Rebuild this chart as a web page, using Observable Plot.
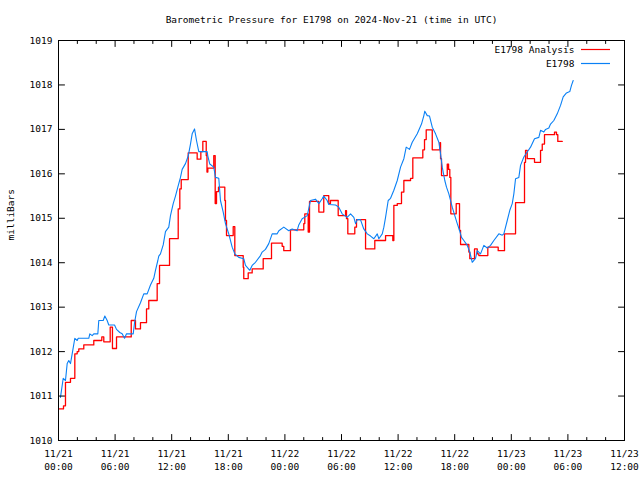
<!DOCTYPE html>
<html><head><meta charset="utf-8">
<script src="https://cdn.jsdelivr.net/npm/d3@7"></script>
<script src="https://cdn.jsdelivr.net/npm/@observablehq/plot@0.6"></script>
<style>body{margin:0;background:#fff} svg{display:block}</style>
</head><body><div id="chart"></div>
<script>
const title = "Barometric Pressure for E1798 on 2024-Nov-21 (time in UTC)";
const yLabel = "milliBars";
const seriesNames = ["E1798 Analysis", "E1798"];
const seriesColors = ["#ff0000", "#0a80f5"];
const startTime = "2024-11-21T00:00:00Z";
const xTickHours = [0, 6, 12, 18, 24, 30, 36, 42, 48, 54, 60];
const xTickLabels = ["11/21\n00:00", "11/21\n06:00", "11/21\n12:00", "11/21\n18:00", "11/22\n00:00", "11/22\n06:00", "11/22\n12:00", "11/22\n18:00", "11/23\n00:00", "11/23\n06:00", "11/23\n12:00"];
const xMinorHours = [2, 4, 8, 10, 14, 16, 20, 22, 26, 28, 32, 34, 38, 40, 44, 46, 50, 52, 56, 58];
const yTicks = [1010, 1011, 1012, 1013, 1014, 1015, 1016, 1017, 1018, 1019];

// E1798 observations (hours after start, mb)
const obsHours = [0.21,0.50,0.74,0.92,1.09,1.27,1.45,1.73,1.98,2.09,
3.21,3.32,3.57,3.74,4.17,4.27,4.74,4.91,5.16,5.33,
5.94,6.15,6.50,6.75,7.00,7.21,7.92,8.06,8.27,8.69,
9.04,9.40,9.75,10.10,10.28,10.53,10.63,10.81,11.10,11.34,
11.69,11.87,12.16,12.40,12.65,12.93,13.11,13.46,13.75,13.99,
14.17,14.42,14.63,14.87,15.76,15.83,16.04,16.46,16.64,16.99,
17.17,17.46,17.70,18.05,18.41,18.69,19.11,19.64,19.82,20.28,
20.53,20.88,21.41,21.59,21.94,22.29,22.65,23.18,23.36,23.88,
24.41,24.77,25.30,25.47,25.83,26.37,26.71,27.24,27.60,27.95,
28.12,28.48,28.65,29.37,29.71,30.07,30.60,30.96,31.31,31.49,
31.67,32.01,32.36,32.73,33.08,33.43,33.79,33.96,34.32,34.49,
34.67,34.95,35.20,35.55,35.91,36.26,36.61,36.86,37.21,37.50,
38.03,38.48,38.73,38.83,39.09,39.33,39.62,39.97,40.32,40.50,
40.68,40.95,41.13,41.38,41.74,42.01,42.27,42.51,42.72,42.97,
43.33,43.60,43.86,44.21,44.39,44.74,45.09,45.45,45.80,46.15,
46.68,47.04,47.21,47.57,47.84,48.10,48.27,48.45,48.80,48.98,
49.33,49.69,50.04,50.46,50.92,51.10,51.45,51.63,51.98,52.16,
52.51,52.87,53.22,53.50,53.85,54.20,54.38,54.56];
const obsValues = [1010.97,1011.40,1011.35,1011.73,1011.80,1011.73,1011.95,1012.30,1012.25,1012.30,
1012.30,1012.40,1012.36,1012.40,1012.40,1012.70,1012.70,1012.80,1012.70,1012.60,
1012.60,1012.50,1012.43,1012.40,1012.30,1012.40,1012.40,1012.65,1012.90,1013.10,
1013.30,1013.30,1013.50,1013.65,1013.83,1014.05,1014.15,1014.20,1014.40,1014.70,
1014.80,1015.06,1015.33,1015.50,1015.70,1015.92,1016.10,1016.23,1016.40,1016.67,
1016.90,1017.01,1016.75,1016.50,1016.50,1016.40,1016.22,1016.15,1015.92,1015.90,
1015.40,1015.14,1014.88,1014.65,1014.35,1014.20,1014.12,1014.09,1013.94,1013.83,
1013.94,1014.01,1014.16,1014.24,1014.30,1014.43,1014.65,1014.65,1014.72,1014.80,
1014.72,1014.76,1014.72,1014.85,1014.99,1015.06,1015.40,1015.43,1015.33,1015.44,
1015.50,1015.40,1015.31,1015.30,1015.25,1015.10,1015.02,1015.10,1015.02,1014.88,
1014.97,1014.97,1014.76,1014.65,1014.60,1014.54,1014.65,1014.54,1014.65,1014.80,
1015.02,1015.40,1015.45,1015.63,1015.85,1016.15,1016.34,1016.60,1016.55,1016.71,
1016.90,1017.12,1017.31,1017.41,1017.31,1017.30,1017.05,1016.90,1016.71,1016.45,
1016.15,1015.85,1015.70,1015.55,1015.25,1015.06,1014.88,1014.73,1014.57,1014.50,
1014.39,1014.24,1014.01,1014.10,1014.27,1014.20,1014.39,1014.33,1014.39,1014.50,
1014.65,1014.62,1014.65,1014.95,1015.18,1015.33,1015.55,1015.89,1015.92,1016.19,
1016.38,1016.49,1016.60,1016.79,1016.82,1016.98,1016.94,1017.00,1017.03,1017.12,
1017.20,1017.35,1017.54,1017.73,1017.82,1017.85,1017.99,1018.10];

// E1798 Analysis (step changes: hours after start, mb)
const anaHours = [0.10,0.53,0.74,1.27,1.73,1.98,2.15,2.68,3.74,4.59,
4.80,5.48,5.72,6.15,7.71,8.16,8.69,9.33,9.57,10.46,
10.71,11.77,12.69,12.86,13.01,13.75,14.70,15.09,15.30,15.66,
15.74,15.83,16.46,16.61,16.75,16.96,17.63,17.70,17.81,18.52,
18.69,19.58,19.64,20.11,20.53,21.70,22.58,23.71,23.88,24.59,
26.00,26.11,26.47,26.61,27.60,28.12,28.65,28.83,29.65,30.43,
30.53,30.67,31.41,31.59,32.55,33.53,34.67,35.44,35.55,35.91,
36.36,36.61,37.32,37.56,38.62,38.80,38.98,39.62,40.42,40.50,
40.60,41.21,41.35,41.48,41.59,42.16,42.51,42.62,43.50,43.60,
44.10,44.39,44.56,45.51,46.61,47.28,48.45,49.40,49.51,49.69,
50.46,51.10,51.28,51.52,52.58,52.79,52.93,53.40];
const anaValues = [1010.71,1010.78,1011.31,1011.40,1011.95,1012.00,1012.06,1012.15,1012.25,1012.33,
1012.22,1012.55,1012.07,1012.33,1012.70,1012.51,1012.65,1012.96,1013.15,1013.53,
1013.94,1014.54,1015.21,1015.66,1015.87,1016.47,1016.33,1016.50,1016.73,1016.41,
1016.04,1016.13,1016.41,1015.33,1015.60,1015.70,1015.40,1014.95,1014.61,1014.81,
1014.16,1013.90,1013.64,1013.77,1013.86,1014.09,1014.44,1014.37,1014.27,1014.74,
1014.88,1015.10,1014.69,1015.38,1015.14,1015.51,1015.33,1015.40,1015.06,1015.17,
1014.99,1014.65,1014.80,1014.97,1014.31,1014.50,1014.61,1014.50,1015.29,1015.33,
1015.59,1015.85,1015.90,1016.36,1016.54,1016.77,1016.99,1016.54,1016.70,1016.34,
1015.96,1016.22,1016.10,1015.92,1015.10,1015.33,1014.73,1014.41,1014.24,1014.09,
1014.31,1014.20,1014.16,1014.35,1014.27,1014.65,1015.35,1016.26,1016.53,1016.34,
1016.26,1016.53,1016.67,1016.88,1016.94,1016.88,1016.73,1016.73];

const t0 = new Date(startTime).getTime();
const toDate = h => new Date(t0 + h * 3600000);
const obs = obsHours.map((h, i) => ({t: toDate(h), v: obsValues[i]}));
const ana = anaHours.map((h, i) => ({t: toDate(h), v: anaValues[i]}));
const majorDates = xTickHours.map(toDate);
const minorDates = xMinorHours.map(toDate);
const labelFor = d => xTickLabels[xTickHours.indexOf(Math.round((d - t0) / 3600000))];

const tickShape = {draw(ctx, l) { ctx.moveTo(0, 0); ctx.lineTo(0, -l); }};
const tickOpts = {anchor: "start", shape: tickShape, stroke: "black", strokeWidth: 1};

const W = 640, H = 480, mL = 58, mR = 16, mT = 40, mB = 40;

const chart = Plot.plot({
  width: W, height: H,
  marginLeft: mL, marginRight: mR, marginTop: mT, marginBottom: mB,
  style: {fontFamily: "'DejaVu Sans Mono', monospace", fontSize: "9.5px", background: "white", color: "black"},
  x: {type: "utc", domain: [toDate(0), toDate(60)]},
  y: {domain: [1010, 1019]},
  marks: [
    Plot.line(ana, {x: "t", y: "v", curve: "step-after", stroke: seriesColors[0], strokeWidth: 1.3}),
    Plot.line(obs, {x: "t", y: "v", stroke: seriesColors[1], strokeWidth: 1.1}),
    Plot.frame({stroke: "black", strokeWidth: 1}),
    Plot.axisX(majorDates, {anchor: "bottom", tickSize: 0, tickPadding: 7, tickFormat: labelFor, label: null, lineHeight: 1.4, fill: "black"}),
    Plot.axisY(yTicks, {anchor: "left", tickSize: 0, tickPadding: 6, tickFormat: d => String(d), label: null, fill: "black"}),
    Plot.vector(majorDates, {...tickOpts, x: d => d, frameAnchor: "bottom", rotate: 0, length: 6}),
    Plot.vector(majorDates, {...tickOpts, x: d => d, frameAnchor: "top", rotate: 180, length: 6}),
    Plot.vector(minorDates, {...tickOpts, x: d => d, frameAnchor: "bottom", rotate: 0, length: 3}),
    Plot.vector(minorDates, {...tickOpts, x: d => d, frameAnchor: "top", rotate: 180, length: 3}),
    Plot.vector(yTicks, {...tickOpts, y: d => d, frameAnchor: "left", rotate: 90, length: 6}),
    Plot.vector(yTicks, {...tickOpts, y: d => d, frameAnchor: "right", rotate: -90, length: 6}),
    Plot.text([yLabel], {text: d => d, frameAnchor: "left", dx: -48, rotate: -90, fill: "black"}),
    Plot.text([title], {text: d => d, frameAnchor: "top", lineAnchor: "middle", dx: -10, dy: -21, fill: "black"}),
    Plot.text([seriesNames[0]], {text: d => d, frameAnchor: "top-right", lineAnchor: "middle", textAnchor: "end", dx: -50, dy: 9, fill: "black"}),
    Plot.text([seriesNames[1]], {text: d => d, frameAnchor: "top-right", lineAnchor: "middle", textAnchor: "end", dx: -50, dy: 23, fill: "black"})
  ]
});

// legend line samples, placed relative to the plot frame's top-right corner
const svg = d3.select(chart);
const fx = W - mR, fy = mT;
seriesNames.forEach((name, i) => {
  svg.append("line")
    .attr("x1", fx - 43).attr("x2", fx - 14)
    .attr("y1", fy + 9 + 14 * i + 0.5).attr("y2", fy + 9 + 14 * i + 0.5)
    .attr("stroke", seriesColors[i]).attr("stroke-width", 1.2);
});
document.getElementById("chart").appendChild(chart);
</script>
</body></html>
